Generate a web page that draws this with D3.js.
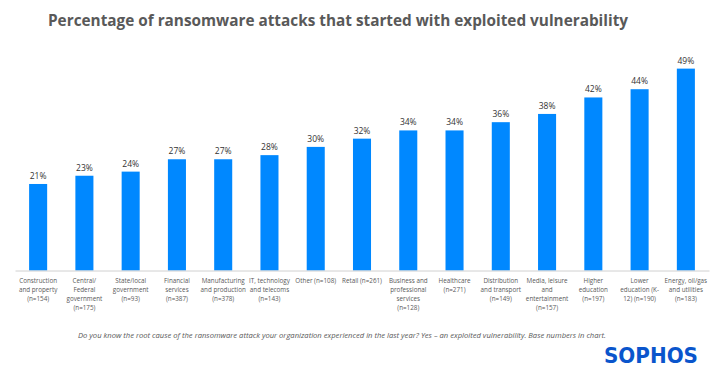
<!DOCTYPE html>
<html>
<head>
<meta charset="utf-8">
<script src="https://cdn.jsdelivr.net/npm/d3@7"></script>
<style>
  body { margin: 0; background: #fff; }
  text { font-family: "Open Sans", sans-serif; }
</style>
</head>
<body>
<div id="chart"></div>
<script>
// chart data
const categories = [
  "Construction|and property|(n=154)",
  "Central/|Federal|government|(n=175)",
  "State/local|government|(n=93)",
  "Financial|services|(n=387)",
  "Manufacturing|and production|(n=378)",
  "IT, technology|and telecoms|(n=143)",
  "Other (n=108)",
  "Retail (n=261)",
  "Business and|professional|services|(n=128)",
  "Healthcare|(n=271)",
  "Distribution|and transport|(n=149)",
  "Media, leisure|and|entertainment|(n=157)",
  "Higher|education|(n=197)",
  "Lower|education (K-|12) (n=190)",
  "Energy, oil/gas|and utilities|(n=183)"
];
const values = [21, 23, 24, 27, 27, 28, 30, 32, 34, 34, 36, 38, 42, 44, 49];

const title = "Percentage of ransomware attacks that started with exploited vulnerability";
const footnote = "Do you know the root cause of the ransomware attack your organization experienced in the last year? Yes \u2013 an exploited vulnerability. Base numbers in chart.";

const width = 719, height = 376;

const svg = d3.select('#chart')
  .append('svg')
    .attr('width', width)
    .attr('height', height);

// scales
const x = d3.scaleBand()
  .domain(categories)
  .range([15, 709])
  .paddingInner(0.61)
  .paddingOuter(0.305);

const y = d3.scaleLinear()
  .domain([0, 50])
  .range([270.5, 64.5]);

// title
svg.append('text')
  .attr('x', 338)
  .attr('y', 26)
  .attr('text-anchor', 'middle')
  .attr('textLength', 580)
  .attr('lengthAdjust', 'spacingAndGlyphs')
  .style('font-size', '16px')
  .style('font-weight', 'bold')
  .attr('fill', '#595959')
  .text(title);

// bars
svg.selectAll('.bar')
  .data(values)
  .enter()
  .append('rect')
    .attr('class', 'bar')
    .attr('x', (d, i) => x(categories[i]))
    .attr('y', d => y(d))
    .attr('width', x.bandwidth())
    .attr('height', d => y(0) - y(d))
    .attr('fill', '#0088ff');

// value labels
svg.selectAll('.val')
  .data(values)
  .enter()
  .append('text')
    .attr('class', 'val')
    .attr('x', (d, i) => x(categories[i]) + x.bandwidth() / 2)
    .attr('y', d => y(d) - 5)
    .attr('text-anchor', 'middle')
    .style('font-size', '8.5px')
    .attr('fill', '#333')
    .text(d => d + '%');

// x axis
const xAxis = svg.append('g')
  .attr('transform', `translate(0, ${y(0)})`)
  .call(d3.axisBottom(x).tickSize(0).tickSizeOuter(0).tickFormat(''));
xAxis.select('.domain').attr('stroke', '#d0d0d0');

xAxis.selectAll('.tick').each(function(d) {
  const t = d3.select(this).append('text')
    .attr('text-anchor', 'middle')
    .attr('fill', '#595959')
    .style('font-size', '6.3px');
  d.split('|').forEach((line, i) => {
    t.append('tspan')
      .attr('x', 0)
      .attr('y', 12 + i * 9)
      .text(line);
  });
});

// footnote
svg.append('text')
  .attr('x', 342)
  .attr('y', 338)
  .attr('text-anchor', 'middle')
  .attr('textLength', 528)
  .attr('lengthAdjust', 'spacingAndGlyphs')
  .style('font-size', '7.5px')
  .style('font-style', 'italic')
  .attr('fill', '#595959')
  .text(footnote);

// logo
svg.append('text')
  .attr('x', 604)
  .attr('y', 363)
  .attr('textLength', 94)
  .attr('lengthAdjust', 'spacingAndGlyphs')
  .style('font-family', '"DejaVu Sans", sans-serif')
  .style('font-size', '20.5px')
  .style('font-weight', 'bold')
  .attr('fill', '#0a55cc')
  .text('SOPHOS');
</script>
</body>
</html>
